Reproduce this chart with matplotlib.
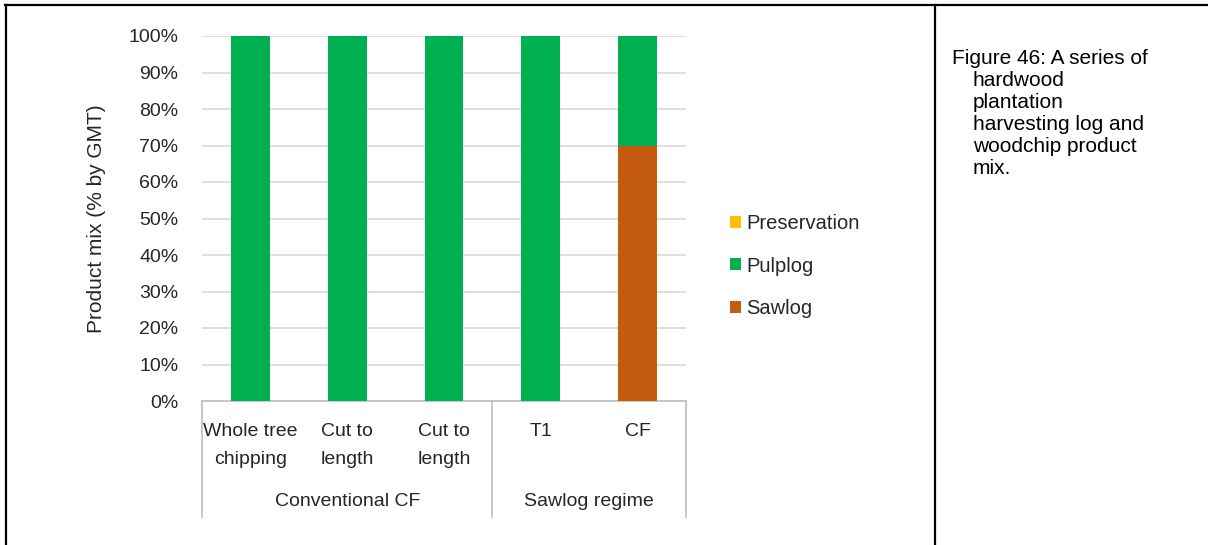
"""Product mix stacked bars for hardwood plantation harvesting."""

import matplotlib

matplotlib.use("Agg")
import matplotlib.pyplot as plt
from matplotlib.lines import Line2D
from matplotlib.transforms import blended_transform_factory

categories = ["Whole tree\nchipping", "Cut to\nlength", "Cut to\nlength", "T1", "CF"]
groups = ["Conventional CF", "Sawlog regime"]
group_sizes = [3, 2]
sawlog = [0, 0, 0, 0, 70]
pulplog = [100, 100, 100, 100, 30]
preservation = [0, 0, 0, 0, 0]
yticks = [0, 10, 20, 30, 40, 50, 60, 70, 80, 90, 100]

COLORS = {
    "Preservation": "#FFC000",
    "Pulplog": "#00B050",
    "Sawlog": "#C55A11",
}
FONT = ["Liberation Sans", "DejaVu Sans"]
INK = "#262626"
W, H = 1208, 545


def fx(px):
    return px / W


def fy(py):
    return 1 - py / H


fig = plt.figure(figsize=(W / 100, H / 100), dpi=100)
fig.patch.set_facecolor("white")

# table borders
for (x1, y1, x2, y2) in [(5, 5, 1208, 5), (6, 5, 6, 545), (935, 5, 935, 545)]:
    fig.add_artist(Line2D([fx(x1), fx(x2)], [fy(y1), fy(y2)], color="black", lw=1.6))

ax = fig.add_axes([fx(202), fy(401), fx(686) - fx(202), fy(36) - fy(401)])
x = list(range(len(categories)))
bw = 0.4
ax.bar(x, sawlog, bw, color=COLORS["Sawlog"], label="Sawlog", zorder=3)
ax.bar(x, pulplog, bw, bottom=sawlog, color=COLORS["Pulplog"], label="Pulplog", zorder=3)
bottoms = [a + b for a, b in zip(sawlog, pulplog)]
ax.bar(x, preservation, bw, bottom=bottoms, color=COLORS["Preservation"], label="Preservation", zorder=3)

ax.set_xlim(-0.5, len(categories) - 0.5)
ax.set_ylim(0, 100)
ax.set_yticks(yticks)
ax.set_yticklabels([f"{v}%" for v in yticks], family=FONT, fontsize=14, color=INK)
ax.tick_params(axis="y", length=0, pad=17)
ax.set_xticks([])
ax.grid(axis="y", color="#D9D9D9", lw=1.2, zorder=0)
for s in ["top", "right", "left"]:
    ax.spines[s].set_visible(False)
ax.spines["bottom"].set_color("#BFBFBF")
ax.spines["bottom"].set_linewidth(1.2)

ax.set_ylabel("Product mix (% by GMT)", family=FONT, fontsize=15, color=INK)
ax.yaxis.set_label_coords((106 - 202) / 484, 0.5)

# category labels: each line placed on its own row
trans = blended_transform_factory(ax.transData, fig.transFigure)
for i, lab in enumerate(categories):
    for j, part in enumerate(lab.split("\n")):
        ax.text(i, fy(432 + 27 * j), part, transform=trans, ha="center", va="center",
                family=FONT, fontsize=14, color=INK)

edges = [-0.5]
for n in group_sizes:
    edges.append(edges[-1] + n)
for e in edges:
    ax.add_artist(Line2D([e, e], [fy(401), fy(517)], transform=trans, color="#BFBFBF", lw=1.2, clip_on=False))
for g, a, b in zip(groups, edges[:-1], edges[1:]):
    ax.text((a + b) / 2, fy(502), g, transform=trans, ha="center", va="center",
            family=FONT, fontsize=14, color=INK)

handles, labels = ax.get_legend_handles_labels()
fig.legend(handles[::-1], labels[::-1], loc="center left", bbox_to_anchor=(fx(712), fy(266)),
           frameon=False, prop={"family": FONT, "size": 14.5}, handlelength=0.55, handleheight=0.55,
           handletextpad=0.25, labelspacing=1.17, labelcolor=INK)

# caption
caption = ["Figure 46: A series of", "hardwood", "plantation", "harvesting log and",
           "woodchip product", "mix."]
ys = [58, 80, 102, 124, 146, 168]
for i, (line, yy) in enumerate(zip(caption, ys)):
    fig.text(fx(952 if i == 0 else 973), fy(yy), line, ha="left", va="center",
             family=FONT, fontsize=15, color="black")

fig.savefig("out.png", dpi=100, facecolor="white")
